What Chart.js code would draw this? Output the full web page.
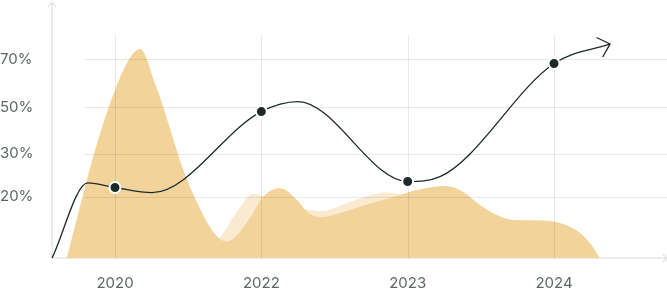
<!DOCTYPE html>
<html>
<head>
<meta charset="utf-8">
<script src="https://cdn.jsdelivr.net/npm/chart.js@4/dist/chart.umd.min.js"></script>
<style>
  html, body { margin: 0; padding: 0; background: #fff; }
  #wrap { width: 667px; height: 291px; }
</style>
</head>
<body>
<div id="wrap"><canvas id="chart"></canvas></div>
<script>
// x positions: 0 = 2020, 1 = 2022, 2 = 2023, 3 = 2024
const years = ['2020', '2022', '2023', '2024'];
const yTickValues = [70, 53.1, 36.6, 21.5];
const yTickLabels = ['70%', '50%', '30%', '20%'];

// trend line (dots on the year positions)
const trendX = [-0.43, -0.185, 0, 0.253, 1, 1.25, 2, 2.221, 3, 3.383];
const trendY = [0, 26.4, 24.8, 23.0, 51.5, 55.0, 26.9, 28.6, 68.4, 75.3];

// main sand area
const sandX = [-0.33, -0.1025, 0.082, 0.171, 0.28, 0.5125, 0.765, 0.923, 1.011, 1.128, 1.244, 1.312, 1.401, 1.606, 1.763, 1.927, 2.064, 2.255, 2.378, 2.494, 2.61, 2.72, 2.93, 3.15, 3.246, 3.314];
const sandY = [0, 43.8, 68.6, 73.5, 60.5, 25.0, 5.8, 14.1, 21.5, 24.5, 20.4, 16.3, 14.4, 16.9, 19.4, 21.8, 23.9, 25.3, 23.3, 18.6, 15.1, 13.4, 13.2, 9.85, 5.3, 0];

// pale area behind it
const paleX = [0.58, 0.71, 0.827, 0.943, 1.06, 1.264, 1.415, 1.606, 1.852, 2.05, 2.36, 2.63];
const paleY = [4.6, 6.9, 15.8, 22.5, 20.8, 17.6, 16.5, 19.7, 23.0, 21.1, 15.1, 8.1];

const gridStartX = -0.212;
const pts = (xs, ys) => xs.map((x, i) => ({ x: x, y: ys[i] }));
const dotRadius = trendX.map(x => Number.isInteger(x) ? 5.5 : 0);

const gridColor = 'rgba(0,0,0,0.085)';
const axisColor = '#e6e6e6';

const frame = {
    id: 'frame',
    beforeDatasetsDraw(chart) {
        const { ctx, scales: { x, y } } = chart;
        const left = x.getPixelForValue(trendX[0]);
        const bottom = y.getPixelForValue(0);
        const top = y.getPixelForValue(90);
        const right = x.getPixelForValue(3.77);
        ctx.save();
        ctx.strokeStyle = axisColor;
        ctx.lineWidth = 1.5;
        ctx.beginPath();
        ctx.moveTo(left, top);
        ctx.lineTo(left, bottom);
        ctx.lineTo(right, bottom);
        ctx.moveTo(left - 4, top + 5);
        ctx.lineTo(left, top);
        ctx.lineTo(left + 4, top + 5);
        ctx.moveTo(right - 4, bottom - 4);
        ctx.lineTo(right, bottom);
        ctx.lineTo(right - 4, bottom + 4);
        ctx.stroke();
        ctx.restore();
    },
    afterDatasetDraw(chart, args) {
        // grid goes over the areas but under the trend line
        if (args.index !== 1) return;
        const { ctx, chartArea, scales: { x, y } } = chart;
        const gx = x.getPixelForValue(gridStartX);
        ctx.save();
        ctx.strokeStyle = gridColor;
        ctx.lineWidth = 1;
        ctx.beginPath();
        x.ticks.forEach(t => {
            const px = Math.round(x.getPixelForValue(t.value)) + 0.5;
            ctx.moveTo(px, chartArea.top);
            ctx.lineTo(px, chartArea.bottom);
        });
        y.ticks.forEach(t => {
            const py = Math.round(y.getPixelForValue(t.value)) + 0.5;
            ctx.moveTo(gx, py);
            ctx.lineTo(chartArea.right, py);
        });
        ctx.stroke();
        ctx.restore();
    },
    afterDatasetsDraw(chart) {
        // arrow head at the end of the trend line
        const { ctx } = chart;
        const els = chart.getDatasetMeta(0).data;
        const tip = els[els.length - 1];
        const prev = chart.scales.x.getPixelForValue(3.2);
        const prevY = chart.scales.y.getPixelForValue(72.3);
        const ang = Math.atan2(tip.y - prevY, tip.x - prev);
        ctx.save();
        ctx.strokeStyle = '#1d2a2a';
        ctx.lineWidth = 1.3;
        ctx.beginPath();
        ctx.moveTo(tip.x + 15 * Math.cos(ang + Math.PI - 0.75), tip.y + 15 * Math.sin(ang + Math.PI - 0.75));
        ctx.lineTo(tip.x, tip.y);
        ctx.lineTo(tip.x + 15 * Math.cos(ang + Math.PI + 0.75), tip.y + 15 * Math.sin(ang + Math.PI + 0.75));
        ctx.stroke();
        ctx.restore();
    }
};

new Chart(document.getElementById('chart'), {
    type: 'line',
    data: {
        datasets: [
            {
                data: pts(trendX, trendY),
                borderColor: '#1d2a2a',
                borderWidth: 1.3,
                cubicInterpolationMode: 'monotone',
                pointRadius: dotRadius,
                pointBackgroundColor: '#1d2a2a',
                pointBorderColor: '#ffffff',
                pointBorderWidth: 2,
                fill: false,
                clip: false
            },
            {
                data: pts(sandX, sandY),
                borderWidth: 0,
                backgroundColor: '#f2d39a',
                cubicInterpolationMode: 'monotone',
                pointRadius: 0,
                fill: 'origin'
            },
            {
                data: pts(paleX, paleY),
                borderWidth: 0,
                backgroundColor: '#faead0',
                cubicInterpolationMode: 'monotone',
                pointRadius: 0,
                fill: 'origin'
            }
        ]
    },
    options: {
        responsive: true,
        maintainAspectRatio: false,
        animation: false,
        layout: { padding: { top: 35, right: 0, left: 0, bottom: 0 } },
        plugins: { legend: { display: false }, tooltip: { enabled: false } },
        scales: {
            x: {
                type: 'linear',
                min: -0.4305,
                max: 3.772,
                border: { display: false },
                grid: { display: false, drawTicks: false },
                afterBuildTicks: scale => { scale.ticks = years.map((_, i) => ({ value: i })); },
                afterFit: scale => { scale.height = 33; },
                ticks: {
                    padding: 18,
                    color: '#5d6767',
                    font: { family: 'Inter', size: 15, lineHeight: 1 },
                    maxRotation: 0,
                    callback: (v, i) => years[i]
                }
            },
            y: {
                type: 'linear',
                min: 0,
                max: 78.44,
                border: { display: false },
                grid: { display: false, drawTicks: false },
                afterBuildTicks: scale => { scale.ticks = yTickValues.map(v => ({ value: v })); },
                afterFit: scale => { scale.width = 52; },
                ticks: {
                    crossAlign: 'far',
                    padding: 0,
                    color: '#5d6767',
                    font: { family: 'Inter', size: 15 },
                    callback: (v, i) => yTickLabels[i]
                }
            }
        }
    },
    plugins: [frame]
});
</script>
</body>
</html>
